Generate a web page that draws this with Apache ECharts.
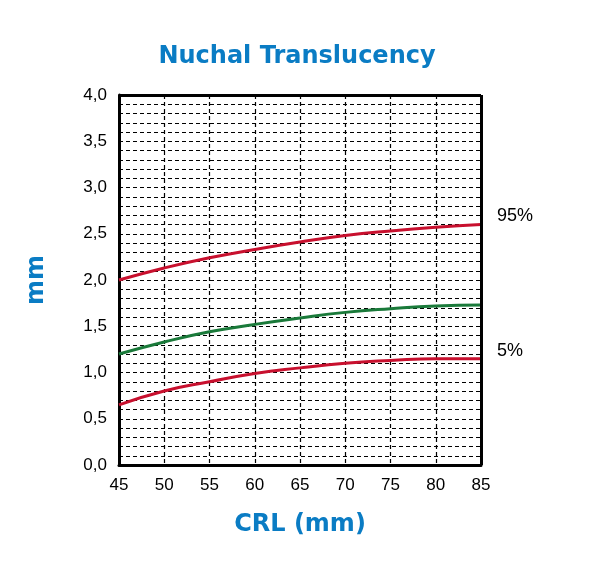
<!DOCTYPE html>
<html><head><meta charset="utf-8">
<script src="https://cdn.jsdelivr.net/npm/echarts@6/dist/echarts.min.js"></script>
<style>html,body{margin:0;background:#fff}#container{width:594px;height:578px}</style>
</head><body><div id="container"></div>
<script>
var crl = [45, 50, 55, 60, 65, 70, 75, 80, 85];
var p95 = [2.0, 2.13, 2.24, 2.33, 2.41, 2.48, 2.53, 2.57, 2.6];
var p50 = [1.2, 1.33, 1.44, 1.52, 1.59, 1.65, 1.69, 1.72, 1.73];
var p5 = [0.65, 0.8, 0.9, 0.99, 1.05, 1.1, 1.13, 1.15, 1.15];

function pairs(ys) { return crl.map(function (x, i) { return [x, ys[i]]; }); }

var myChart = echarts.init(document.getElementById('container'), null, { renderer: 'canvas' });
var blue = '#0a7cc4';
var dash = { color: '#000', type: [4, 3], width: 1.2 };

function line(name, ys, color, label) {
  return {
    name: name, type: 'line', data: pairs(ys), smooth: true, symbol: 'none',
    lineStyle: { color: color, width: 3 },
    endLabel: { show: !!label, formatter: label || '', color: '#000', fontSize: 18,
      fontFamily: 'Liberation Sans', offset: [8, -8] }
  };
}

var option = {
  animation: false,
  title: { text: 'Nuchal Translucency', left: 'center', top: 40,
    textStyle: { color: blue, fontSize: 24, fontWeight: 'bold', fontFamily: 'DejaVu Sans' } },
  grid: { left: 119, right: 113, top: 95, bottom: 113 },
  xAxis: {
    type: 'value', min: 45, max: 85, interval: 5,
    name: 'CRL (mm)', nameLocation: 'middle', nameGap: 48,
    nameTextStyle: { color: blue, fontSize: 24, fontWeight: 'bold', fontFamily: 'DejaVu Sans' },
    axisLine: { lineStyle: { color: '#000', width: 3 } },
    axisTick: { show: false },
    axisLabel: { color: '#000', fontSize: 17, fontFamily: 'Liberation Sans', margin: 12 },
    splitLine: { show: true, lineStyle: dash }
  },
  yAxis: {
    type: 'value', min: 0, max: 4, interval: 0.5,
    name: 'mm', nameLocation: 'middle', nameGap: 70,
    nameTextStyle: { color: blue, fontSize: 24, fontWeight: 'bold', fontFamily: 'DejaVu Sans' },
    axisLine: { show: true, lineStyle: { color: '#000', width: 3 } },
    axisTick: { show: false },
    minorTick: { show: false, splitNumber: 5 },
    axisLabel: { color: '#000', fontSize: 17, fontFamily: 'Liberation Sans', margin: 12,
      formatter: function (v) { return v.toFixed(1).replace('.', ','); } },
    splitLine: { show: true, lineStyle: dash },
    minorSplitLine: { show: true, lineStyle: dash }
  },
  series: [
    line('95%', p95, '#c8102e', '95%'),
    line('50%', p50, '#1a7a3a', ''),
    line('5%', p5, '#c8102e', '5%'),
    { type: 'line', data: [], markLine: { silent: true, symbol: 'none', label: { show: false },
      lineStyle: { color: '#000', width: 3, type: 'solid' },
      data: [{ xAxis: 85 }, { yAxis: 4 }] } }
  ]
};
myChart.setOption(option);
window.addEventListener('resize', myChart.resize);
</script></body></html>
